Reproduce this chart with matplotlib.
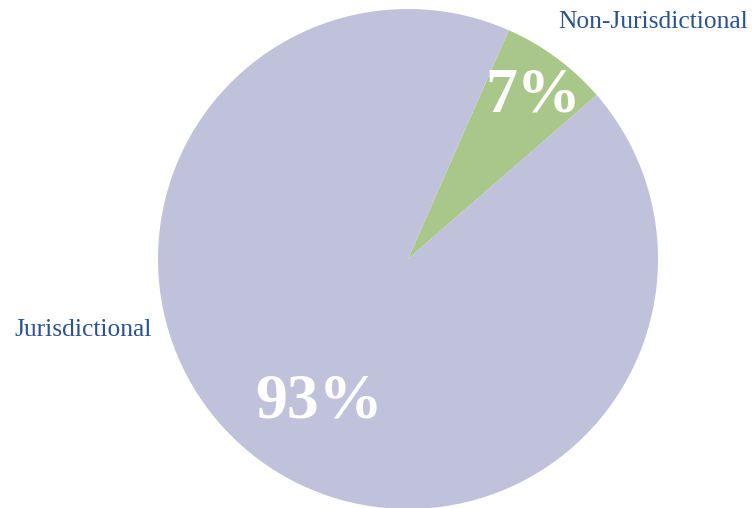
import matplotlib
matplotlib.use("Agg")
import matplotlib.pyplot as plt

categories = ["Non-Jurisdictional", "Jurisdictional"]
values = [7, 93]
pct_labels = ["7%", "93%"]
colors = ["#A9C78A", "#C0C1DA"]

W, H = 753, 508
fig = plt.figure(figsize=(W / 100, H / 100), dpi=100)
ax = fig.add_axes([0, 0, 1, 1])

ax.pie(values, colors=colors, startangle=41, counterclock=True,
       center=(408, H - 259), radius=250, frame=True,
       wedgeprops={"linewidth": 0})
ax.set_xlim(0, W)
ax.set_ylim(0, H)
ax.set_aspect("equal")
ax.axis("off")

serif = ["Liberation Serif", "DejaVu Serif"]
label_color = "#2B5291"
ax.text(558, H - 22, categories[0], family=serif, fontsize=18.4,
        color=label_color, ha="left", va="center")
ax.text(14, H - 330, categories[1], family=serif, fontsize=18.4,
        color=label_color, ha="left", va="center")

ax.text(533, H - 97, pct_labels[0], family=serif, fontsize=46, fontweight="bold",
        color="white", ha="center", va="center")
ax.text(319, H - 403, pct_labels[1], family=serif, fontsize=46, fontweight="bold",
        color="white", ha="center", va="center")

fig.savefig("out.png", dpi=100)
